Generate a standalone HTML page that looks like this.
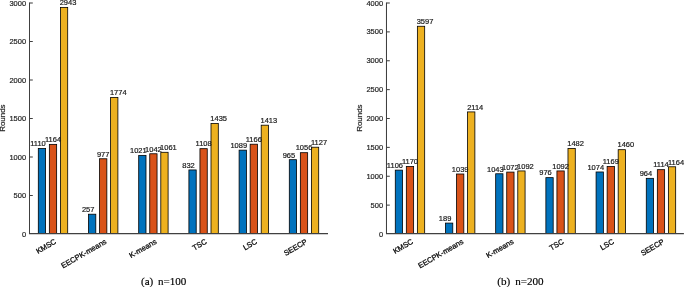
<!DOCTYPE html>
<html><head><meta charset="utf-8"><style>
html,body{margin:0;padding:0;background:#fff;}
body{width:685px;height:287px;overflow:hidden;}
svg{display:block;font-family:"Liberation Sans",sans-serif;will-change:transform;}
</style></head><body>
<svg width="685" height="287" viewBox="0 0 685 287">
<rect width="685" height="287" fill="#fff"/>
<rect x="38.30" y="148.53" width="7.30" height="85.07" fill="#0072BD"/>
<rect x="49.35" y="144.37" width="7.30" height="89.23" fill="#D95319"/>
<rect x="60.40" y="7.39" width="7.30" height="226.21" fill="#EDB120"/>
<rect x="88.50" y="214.21" width="7.30" height="19.39" fill="#0072BD"/>
<rect x="99.55" y="158.77" width="7.30" height="74.83" fill="#D95319"/>
<rect x="110.60" y="97.40" width="7.30" height="136.20" fill="#EDB120"/>
<rect x="138.70" y="155.38" width="7.30" height="78.22" fill="#0072BD"/>
<rect x="149.75" y="153.77" width="7.30" height="79.83" fill="#D95319"/>
<rect x="160.80" y="152.30" width="7.30" height="81.30" fill="#EDB120"/>
<rect x="188.90" y="169.94" width="7.30" height="63.66" fill="#0072BD"/>
<rect x="199.95" y="148.68" width="7.30" height="84.92" fill="#D95319"/>
<rect x="211.00" y="123.50" width="7.30" height="110.09" fill="#EDB120"/>
<rect x="239.10" y="150.15" width="7.30" height="83.45" fill="#0072BD"/>
<rect x="250.15" y="144.22" width="7.30" height="89.38" fill="#D95319"/>
<rect x="261.20" y="125.20" width="7.30" height="108.40" fill="#EDB120"/>
<rect x="289.30" y="159.69" width="7.30" height="73.91" fill="#0072BD"/>
<rect x="300.35" y="152.69" width="7.30" height="80.91" fill="#D95319"/>
<rect x="311.40" y="147.22" width="7.30" height="86.38" fill="#EDB120"/>
<g fill="none" stroke="#000" stroke-width="0.8">
<rect x="38.30" y="148.53" width="7.30" height="85.07"/>
<rect x="49.35" y="144.37" width="7.30" height="89.23"/>
<rect x="60.40" y="7.39" width="7.30" height="226.21"/>
<rect x="88.50" y="214.21" width="7.30" height="19.39"/>
<rect x="99.55" y="158.77" width="7.30" height="74.83"/>
<rect x="110.60" y="97.40" width="7.30" height="136.20"/>
<rect x="138.70" y="155.38" width="7.30" height="78.22"/>
<rect x="149.75" y="153.77" width="7.30" height="79.83"/>
<rect x="160.80" y="152.30" width="7.30" height="81.30"/>
<rect x="188.90" y="169.94" width="7.30" height="63.66"/>
<rect x="199.95" y="148.68" width="7.30" height="84.92"/>
<rect x="211.00" y="123.50" width="7.30" height="110.09"/>
<rect x="239.10" y="150.15" width="7.30" height="83.45"/>
<rect x="250.15" y="144.22" width="7.30" height="89.38"/>
<rect x="261.20" y="125.20" width="7.30" height="108.40"/>
<rect x="289.30" y="159.69" width="7.30" height="73.91"/>
<rect x="300.35" y="152.69" width="7.30" height="80.91"/>
<rect x="311.40" y="147.22" width="7.30" height="86.38"/>
</g>
<g stroke="#404040" stroke-width="1.05">
<line x1="29.50" y1="2.50" x2="29.50" y2="233.60"/>
<line x1="28.98" y1="233.60" x2="328.00" y2="233.60"/>
<line x1="29.50" y1="195.50" x2="32.80" y2="195.50"/>
<line x1="29.50" y1="157.00" x2="32.80" y2="157.00"/>
<line x1="29.50" y1="118.50" x2="32.80" y2="118.50"/>
<line x1="29.50" y1="80.00" x2="32.80" y2="80.00"/>
<line x1="29.50" y1="41.50" x2="32.80" y2="41.50"/>
<line x1="29.50" y1="3.00" x2="32.80" y2="3.00"/>
</g>
<g fill="#1a1a1a" stroke="#1a1a1a" stroke-width="0.2" stroke-linejoin="round" font-size="7.5" text-anchor="middle">
<text x="37.95" y="146.33">1110</text>
<text x="53.00" y="142.17">1164</text>
<text x="68.05" y="5.19">2943</text>
<text x="88.15" y="212.01">257</text>
<text x="103.20" y="156.57">977</text>
<text x="118.25" y="95.20">1774</text>
<text x="138.35" y="153.18">1021</text>
<text x="153.40" y="151.57">1042</text>
<text x="168.45" y="150.10">1061</text>
<text x="188.55" y="167.74">832</text>
<text x="203.60" y="146.48">1108</text>
<text x="218.65" y="121.30">1435</text>
<text x="238.75" y="147.95">1089</text>
<text x="253.80" y="142.02">1166</text>
<text x="268.85" y="123.00">1413</text>
<text x="288.95" y="157.50">965</text>
<text x="304.00" y="150.49">1056</text>
<text x="319.05" y="145.02">1127</text>
</g>
<g fill="#262626" stroke="#262626" stroke-width="0.2" stroke-linejoin="round" font-size="7.5" text-anchor="end">
<text x="26.10" y="236.55">0</text>
<text x="26.10" y="198.05">500</text>
<text x="26.10" y="159.55">1000</text>
<text x="26.10" y="121.05">1500</text>
<text x="26.10" y="82.55">2000</text>
<text x="26.10" y="44.05">2500</text>
<text x="26.10" y="5.55">3000</text>
<text transform="translate(5.30,118.10) rotate(-90)" text-anchor="middle" font-size="7.95">Rounds</text>
</g>
<g fill="#111" stroke="#111" stroke-width="0.3" stroke-linejoin="round" font-size="7.55" text-anchor="end">
<text transform="translate(54.00,238.20) rotate(-30)" y="5.66">KMSC</text>
<text transform="translate(104.20,238.20) rotate(-30)" y="5.66">EECPK-means</text>
<text transform="translate(154.40,238.20) rotate(-30)" y="5.66">K-means</text>
<text transform="translate(204.60,238.20) rotate(-30)" y="5.66">TSC</text>
<text transform="translate(254.80,238.20) rotate(-30)" y="5.66">LSC</text>
<text transform="translate(305.00,238.20) rotate(-30)" y="5.66">SEECP</text>
</g>
<rect x="395.28" y="170.13" width="7.30" height="63.47" fill="#0072BD"/>
<rect x="406.33" y="166.43" width="7.30" height="67.17" fill="#D95319"/>
<rect x="417.38" y="26.27" width="7.30" height="207.33" fill="#EDB120"/>
<rect x="445.48" y="223.09" width="7.30" height="10.51" fill="#0072BD"/>
<rect x="456.53" y="174.00" width="7.30" height="59.60" fill="#D95319"/>
<rect x="467.58" y="111.92" width="7.30" height="121.68" fill="#EDB120"/>
<rect x="495.68" y="173.77" width="7.30" height="59.83" fill="#0072BD"/>
<rect x="506.73" y="172.09" width="7.30" height="61.51" fill="#D95319"/>
<rect x="517.78" y="170.94" width="7.30" height="62.66" fill="#EDB120"/>
<rect x="545.88" y="177.64" width="7.30" height="55.96" fill="#0072BD"/>
<rect x="556.93" y="170.94" width="7.30" height="62.66" fill="#D95319"/>
<rect x="567.98" y="148.41" width="7.30" height="85.19" fill="#EDB120"/>
<rect x="596.08" y="171.98" width="7.30" height="61.62" fill="#0072BD"/>
<rect x="607.13" y="166.49" width="7.30" height="67.11" fill="#D95319"/>
<rect x="618.18" y="149.69" width="7.30" height="83.91" fill="#EDB120"/>
<rect x="646.28" y="178.33" width="7.30" height="55.27" fill="#0072BD"/>
<rect x="657.33" y="169.67" width="7.30" height="63.93" fill="#D95319"/>
<rect x="668.38" y="166.78" width="7.30" height="66.82" fill="#EDB120"/>
<g fill="none" stroke="#000" stroke-width="0.8">
<rect x="395.28" y="170.13" width="7.30" height="63.47"/>
<rect x="406.33" y="166.43" width="7.30" height="67.17"/>
<rect x="417.38" y="26.27" width="7.30" height="207.33"/>
<rect x="445.48" y="223.09" width="7.30" height="10.51"/>
<rect x="456.53" y="174.00" width="7.30" height="59.60"/>
<rect x="467.58" y="111.92" width="7.30" height="121.68"/>
<rect x="495.68" y="173.77" width="7.30" height="59.83"/>
<rect x="506.73" y="172.09" width="7.30" height="61.51"/>
<rect x="517.78" y="170.94" width="7.30" height="62.66"/>
<rect x="545.88" y="177.64" width="7.30" height="55.96"/>
<rect x="556.93" y="170.94" width="7.30" height="62.66"/>
<rect x="567.98" y="148.41" width="7.30" height="85.19"/>
<rect x="596.08" y="171.98" width="7.30" height="61.62"/>
<rect x="607.13" y="166.49" width="7.30" height="67.11"/>
<rect x="618.18" y="149.69" width="7.30" height="83.91"/>
<rect x="646.28" y="178.33" width="7.30" height="55.27"/>
<rect x="657.33" y="169.67" width="7.30" height="63.93"/>
<rect x="668.38" y="166.78" width="7.30" height="66.82"/>
</g>
<g stroke="#404040" stroke-width="1.05">
<line x1="386.48" y1="2.50" x2="386.48" y2="233.60"/>
<line x1="385.96" y1="233.60" x2="683.90" y2="233.60"/>
<line x1="386.48" y1="205.12" x2="389.78" y2="205.12"/>
<line x1="386.48" y1="176.25" x2="389.78" y2="176.25"/>
<line x1="386.48" y1="147.38" x2="389.78" y2="147.38"/>
<line x1="386.48" y1="118.50" x2="389.78" y2="118.50"/>
<line x1="386.48" y1="89.62" x2="389.78" y2="89.62"/>
<line x1="386.48" y1="60.75" x2="389.78" y2="60.75"/>
<line x1="386.48" y1="31.88" x2="389.78" y2="31.88"/>
<line x1="386.48" y1="3.00" x2="389.78" y2="3.00"/>
</g>
<g fill="#1a1a1a" stroke="#1a1a1a" stroke-width="0.2" stroke-linejoin="round" font-size="7.5" text-anchor="middle">
<text x="394.93" y="167.93">1106</text>
<text x="409.98" y="164.23">1170</text>
<text x="425.03" y="24.07">3597</text>
<text x="445.13" y="220.89">189</text>
<text x="460.18" y="171.80">1039</text>
<text x="475.23" y="109.72">2114</text>
<text x="495.33" y="171.57">1043</text>
<text x="510.38" y="169.89">1072</text>
<text x="525.43" y="168.74">1092</text>
<text x="545.53" y="175.44">976</text>
<text x="560.58" y="168.74">1092</text>
<text x="575.63" y="146.21">1482</text>
<text x="595.73" y="169.78">1074</text>
<text x="610.78" y="164.29">1169</text>
<text x="625.83" y="147.49">1460</text>
<text x="645.93" y="176.13">964</text>
<text x="660.98" y="167.47">1114</text>
<text x="676.03" y="164.58">1164</text>
</g>
<g fill="#262626" stroke="#262626" stroke-width="0.2" stroke-linejoin="round" font-size="7.5" text-anchor="end">
<text x="383.08" y="236.55">0</text>
<text x="383.08" y="207.68">500</text>
<text x="383.08" y="178.80">1000</text>
<text x="383.08" y="149.93">1500</text>
<text x="383.08" y="121.05">2000</text>
<text x="383.08" y="92.17">2500</text>
<text x="383.08" y="63.30">3000</text>
<text x="383.08" y="34.42">3500</text>
<text x="383.08" y="5.55">4000</text>
<text transform="translate(362.28,118.10) rotate(-90)" text-anchor="middle" font-size="7.95">Rounds</text>
</g>
<g fill="#111" stroke="#111" stroke-width="0.3" stroke-linejoin="round" font-size="7.55" text-anchor="end">
<text transform="translate(410.98,238.20) rotate(-30)" y="5.66">KMSC</text>
<text transform="translate(461.18,238.20) rotate(-30)" y="5.66">EECPK-means</text>
<text transform="translate(511.38,238.20) rotate(-30)" y="5.66">K-means</text>
<text transform="translate(561.58,238.20) rotate(-30)" y="5.66">TSC</text>
<text transform="translate(611.78,238.20) rotate(-30)" y="5.66">LSC</text>
<text transform="translate(661.98,238.20) rotate(-30)" y="5.66">SEECP</text>
</g>
<g font-family="Liberation Serif, serif" font-size="11.1" fill="#000" stroke="#000" stroke-width="0.15">
<text x="141" y="284.5">(a)</text>
<text x="157.9" y="284.5">n=100</text>
<text x="497.3" y="284.5">(b)</text>
<text x="515.2" y="284.5">n=200</text>
</g>
</svg>
</body></html>
